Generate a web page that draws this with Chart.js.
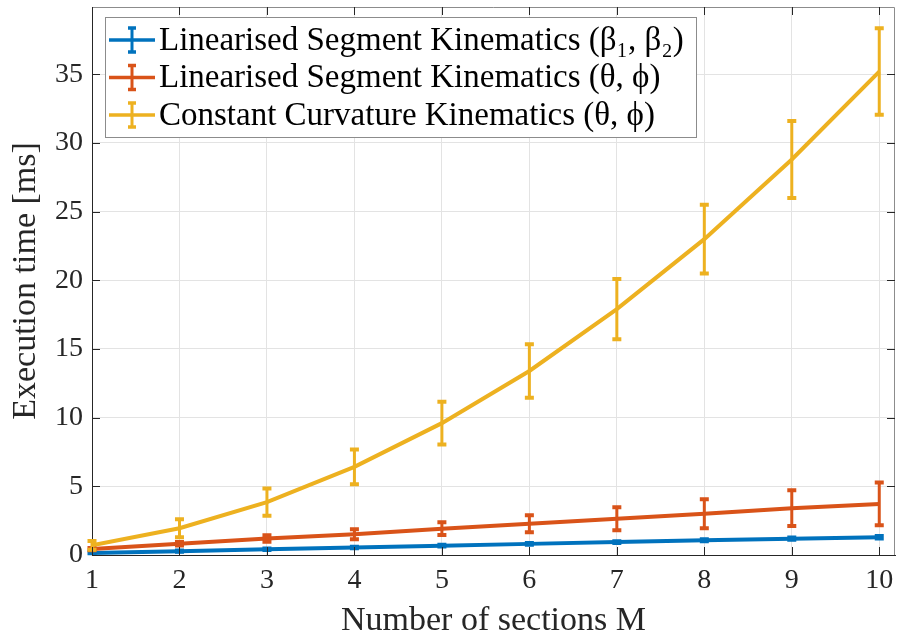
<!DOCTYPE html>
<html>
<head>
<meta charset="utf-8">
<script src="https://cdn.jsdelivr.net/npm/chart.js@4/dist/chart.umd.min.js"></script>
<style>
  html, body { margin: 0; padding: 0; background: #fff; }
</style>
</head>
<body>
<canvas id="chart" width="898" height="636"></canvas>
<script>
const sections = [1, 2, 3, 4, 5, 6, 7, 8, 9, 10];
const xTicks = [1, 2, 3, 4, 5, 6, 7, 8, 9, 10];
const yTicks = [0, 5, 10, 15, 20, 25, 30, 35];
const seriesLabels = [
  'Linearised Segment Kinematics (β₁, β₂)',
  'Linearised Segment Kinematics (θ, ϕ)',
  'Constant Curvature Kinematics (θ, ϕ)'
];
const linBetaMean = [0.15, 0.28, 0.42, 0.55, 0.68, 0.81, 0.94, 1.07, 1.19, 1.30];
const linBetaErr = [0.03, 0.04, 0.05, 0.05, 0.06, 0.06, 0.07, 0.07, 0.08, 0.09];
const linThetaMean = [0.43, 0.82, 1.20, 1.51, 1.92, 2.28, 2.64, 3.00, 3.41, 3.72];
const linThetaErr = [0.08, 0.12, 0.23, 0.36, 0.47, 0.62, 0.83, 1.06, 1.30, 1.55];
const constCurvMean = [0.70, 1.95, 3.85, 6.42, 9.60, 13.40, 17.90, 23.00, 28.80, 35.20];
const constCurvErr = [0.32, 0.66, 1.00, 1.26, 1.55, 1.95, 2.20, 2.50, 2.80, 3.15];

const colors = ['#0072BD', '#D95319', '#EDB120'];
const serif = '"Liberation Serif", "DejaVu Serif", serif';
const axisColor = '#262626';

function toPoints(ys) {
  return sections.map((x, i) => ({ x: x, y: ys[i] }));
}

// error bars, drawn right after each line so the layering follows the lines
const errorBars = {
  id: 'errorBars',
  afterDatasetDraw(chart, args) {
    const ds = chart.data.datasets[args.index];
    if (!ds.errors) return;
    const ctx = chart.ctx;
    const xs = chart.scales.x, ys = chart.scales.y;
    ctx.save();
    ctx.strokeStyle = ds.borderColor;
    ds.data.forEach((p, i) => {
      const px = xs.getPixelForValue(p.x);
      const top = ys.getPixelForValue(p.y + ds.errors[i]);
      const bot = ys.getPixelForValue(p.y - ds.errors[i]);
      ctx.lineWidth = 3;
      ctx.beginPath();
      ctx.moveTo(px, top);
      ctx.lineTo(px, bot);
      ctx.stroke();
      ctx.lineWidth = 4;
      ctx.beginPath();
      ctx.moveTo(px - 4.5, top);
      ctx.lineTo(px + 4.5, top);
      ctx.moveTo(px - 4.5, bot);
      ctx.lineTo(px + 4.5, bot);
      ctx.stroke();
    });
    ctx.restore();
  }
};

// box round the axes plus the inward tick marks
const axesBox = {
  id: 'axesBox',
  afterDraw(chart) {
    const ctx = chart.ctx;
    const a = chart.chartArea;
    const xs = chart.scales.x, ys = chart.scales.y;
    ctx.save();
    ctx.lineWidth = 1;
    ctx.strokeStyle = '#8c8c8c';
    ctx.beginPath();
    ctx.moveTo(a.left, a.top + 0.5);
    ctx.lineTo(a.right - 0.5, a.top + 0.5);
    ctx.lineTo(a.right - 0.5, a.bottom);
    ctx.stroke();
    ctx.strokeStyle = axisColor;
    ctx.beginPath();
    xTicks.forEach(v => {
      const px = Math.round(xs.getPixelForValue(v)) + 0.5;
      ctx.moveTo(px, a.bottom); ctx.lineTo(px, a.bottom - 8);
      ctx.moveTo(px, a.top); ctx.lineTo(px, a.top + 8);
    });
    yTicks.forEach(v => {
      const py = Math.round(ys.getPixelForValue(v)) + 0.5;
      ctx.moveTo(a.left, py); ctx.lineTo(a.left + 8, py);
      ctx.moveTo(a.right, py); ctx.lineTo(a.right - 8, py);
    });
    ctx.stroke();
    ctx.restore();
  }
};

// legend box inside the axes, top left
const boxLegend = {
  id: 'boxLegend',
  afterDraw(chart) {
    const ctx = chart.ctx;
    const left = 105, top = 17, w = 591, h = 120;
    ctx.save();
    ctx.fillStyle = '#fff';
    ctx.fillRect(left, top, w, h);
    ctx.strokeStyle = '#8c8c8c';
    ctx.lineWidth = 1;
    ctx.strokeRect(left + 0.5, top + 0.5, w, h);
    ctx.font = '33px ' + serif;
    ctx.textBaseline = 'middle';
    chart.data.datasets.forEach((ds, i) => {
      const cy = top + 23 + i * 37.5;
      ctx.strokeStyle = ds.borderColor;
      ctx.lineWidth = 3.5;
      ctx.beginPath();
      ctx.moveTo(left + 4, cy); ctx.lineTo(left + 50, cy);
      ctx.stroke();
      ctx.lineWidth = 3;
      ctx.beginPath();
      ctx.moveTo(left + 27, cy - 12); ctx.lineTo(left + 27, cy + 12);
      ctx.stroke();
      ctx.lineWidth = 3.5;
      ctx.beginPath();
      ctx.moveTo(left + 23, cy - 12); ctx.lineTo(left + 31, cy - 12);
      ctx.moveTo(left + 23, cy + 12); ctx.lineTo(left + 31, cy + 12);
      ctx.stroke();
      ctx.fillStyle = '#000';
      ctx.fillText(ds.label, left + 54, cy + 1);
    });
    ctx.restore();
  }
};

const datasets = [
  { label: seriesLabels[0], data: toPoints(linBetaMean), errors: linBetaErr, borderColor: colors[0], order: 3 },
  { label: seriesLabels[1], data: toPoints(linThetaMean), errors: linThetaErr, borderColor: colors[1], order: 2 },
  { label: seriesLabels[2], data: toPoints(constCurvMean), errors: constCurvErr, borderColor: colors[2], order: 1 }
].map(d => Object.assign(d, {
  backgroundColor: d.borderColor,
  borderWidth: 4,
  pointRadius: 0,
  tension: 0,
  fill: false
}));

new Chart(document.getElementById('chart'), {
  type: 'line',
  data: { datasets: datasets },
  options: {
    responsive: false,
    devicePixelRatio: 1,
    animation: false,
    layout: { padding: { top: 7, right: 3, left: 0, bottom: 0 } },
    plugins: { legend: { display: false }, tooltip: { enabled: false } },
    scales: {
      x: {
        type: 'linear',
        min: 1,
        max: 10.18,
        afterBuildTicks: s => { s.ticks = xTicks.map(v => ({ value: v })); },
        afterFit: s => { s.height = 81; s.paddingLeft = 0; s.paddingRight = 0; },
        grid: { color: '#e3e3e3', drawTicks: false },
        border: { color: axisColor, width: 1 },
        ticks: { color: axisColor, font: { family: serif, size: 28 }, padding: 9, maxRotation: 0 },
        title: { display: true, text: 'Number of sections M', color: axisColor, font: { family: serif, size: 34 }, padding: { top: 0, bottom: -5 } }
      },
      y: {
        min: 0,
        max: 39.9,
        afterBuildTicks: s => { s.ticks = yTicks.map(v => ({ value: v })); },
        afterFit: s => { s.width = 92; s.paddingTop = 0; s.paddingBottom = 0; },
        grid: { color: '#e3e3e3', drawTicks: false },
        border: { color: axisColor, width: 1 },
        ticks: { color: axisColor, font: { family: serif, size: 28 }, padding: 9 },
        title: { display: true, text: 'Execution time [ms]', color: axisColor, font: { family: serif, size: 34 }, padding: { top: 6, bottom: 0 } }
      }
    }
  },
  plugins: [errorBars, axesBox, boxLegend]
});
</script>
</body>
</html>
